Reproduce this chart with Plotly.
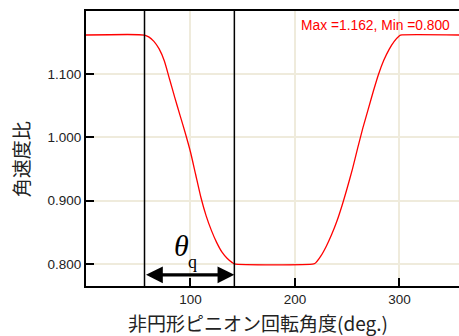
import plotly.graph_objects as go

# Angular velocity ratio vs. non-circular pinion rotation angle
angle_deg = [0, 56, 60, 65, 70, 75, 80, 85, 90, 95, 100, 105, 110, 115, 120, 125,
             130, 135, 140, 142, 218, 220, 225, 230, 235, 240, 245, 250, 255, 260,
             265, 270, 275, 280, 285, 290, 295, 300, 301, 360]
speed_ratio = [1.162, 1.162, 1.159, 1.152, 1.140, 1.121, 1.092, 1.063, 1.035, 1.007,
               0.977, 0.941, 0.905, 0.876, 0.853, 0.834, 0.819, 0.809, 0.802, 0.800,
               0.800, 0.802, 0.813, 0.828, 0.846, 0.867, 0.892, 0.920, 0.950, 0.983,
               1.015, 1.044, 1.073, 1.100, 1.122, 1.139, 1.152, 1.161, 1.162, 1.162]

marker_angles = [56, 142]          # boundaries of theta_q interval
x_ticks = [100, 200, 300]
y_ticks = [0.8, 0.9, 1.0, 1.1]
y_tick_labels = ["0.800", "0.900", "1.000", "1.100"]
x_title = "非円形ピニオン回転角度(deg.)"
y_title = "角速度比"
info_text = "Max =1.162, Min =0.800"

SANS = "Liberation Sans, Arial, sans-serif"
CJK = "Noto Sans CJK JP, sans-serif"
GRID = "#efebdc"

fig = go.Figure()
fig.add_trace(go.Scatter(x=angle_deg, y=speed_ratio, mode="lines",
                         line=dict(color="#ff0000", width=1.3, shape="spline", smoothing=0.6),
                         showlegend=False, hoverinfo="skip"))

for a in marker_angles:
    fig.add_shape(type="line", xref="x", yref="paper", x0=a, x1=a, y0=0, y1=1,
                  line=dict(color="black", width=1.5))

arrow_y = 0.7826
fig.add_annotation(x=marker_angles[1], y=arrow_y, ax=marker_angles[0], ay=arrow_y,
                   xref="x", yref="y", axref="x", ayref="y", text="",
                   showarrow=True, arrowhead=2, startarrowhead=2, arrowside="end+start",
                   arrowwidth=3.2, arrowsize=1.05, startarrowsize=1.05,
                   arrowcolor="black", standoff=0, startstandoff=0)

fig.add_annotation(x=91, y=0.8296, xref="x", yref="y", text="<i>θ</i>", showarrow=False,
                   font=dict(family="Liberation Serif, Times New Roman, serif", size=30, color="black"))
fig.add_annotation(x=101.6, y=0.8027, xref="x", yref="y", text="q", showarrow=False,
                   font=dict(family="Liberation Serif, Times New Roman, serif", size=18, color="black"))

fig.add_annotation(x=0.9812, y=0.949, xref="paper", yref="paper", xanchor="right", yanchor="middle",
                   text=info_text, showarrow=False,
                   font=dict(family=SANS, size=13.8, color="#ff0000"))

fig.add_annotation(x=0.4598, y=-0.1345, xref="paper", yref="paper", xanchor="center", yanchor="middle",
                   text=x_title, showarrow=False, font=dict(family=CJK, size=19, color="#222222"))
fig.add_annotation(x=-0.176, y=0.4618, xref="paper", yref="paper", xanchor="center", yanchor="middle",
                   text=y_title, textangle=-90, showarrow=False,
                   font=dict(family=CJK, size=19, color="#222222"))

fig.update_layout(
    width=459, height=336,
    margin=dict(l=86, r=0, t=11, b=50, pad=0),
    paper_bgcolor="white", plot_bgcolor="white",
    xaxis=dict(range=[0, 357], tickvals=x_ticks, ticks="inside", ticklen=8, tickwidth=1.5,
               tickcolor="black", showline=True, linecolor="black", linewidth=2, mirror=True,
               showgrid=True, gridcolor=GRID, gridwidth=1.5, zeroline=False,
               tickfont=dict(family=SANS, size=13.5, color="#222222")),
    yaxis=dict(range=[0.765, 1.2], tickvals=y_ticks, ticktext=y_tick_labels, ticks="inside",
               ticklen=8, tickwidth=1.5, tickcolor="black", showline=True, linecolor="black",
               linewidth=2, mirror=False, showgrid=True, gridcolor=GRID, gridwidth=1.5,
               zeroline=False, tickfont=dict(family=SANS, size=13.5, color="#222222")),
)

fig.write_html("out.html", config={"displayModeBar": False},
               post_script="document.body.style.margin='0px';")
